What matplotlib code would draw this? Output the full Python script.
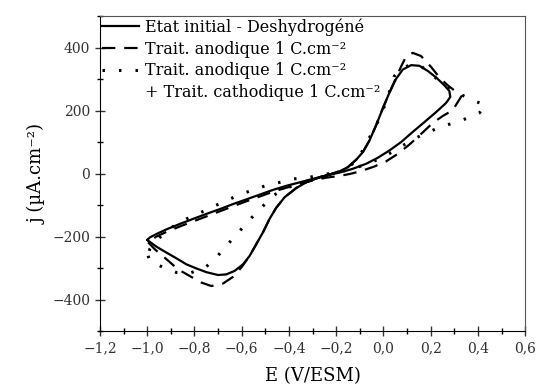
import numpy as np
import matplotlib
matplotlib.use("Agg")
import matplotlib.pyplot as plt
from matplotlib.ticker import MultipleLocator, FuncFormatter

plt.rcParams["font.family"] = "DejaVu Serif"
plt.rcParams["mathtext.fontset"] = "dejavuserif"

# Etat initial - Deshydrogene (solid)
E_init = [-0.999, -0.961, -0.918, -0.876, -0.834, -0.792, -0.749, -0.700, -0.665, -0.630,
          -0.594, -0.566, -0.538, -0.510, -0.482, -0.454, -0.418, -0.369, -0.320, -0.277,
          -0.228, -0.186, -0.151, -0.115, -0.087, -0.059, -0.031, -0.003, 0.025, 0.054,
          0.082, 0.117, 0.152, 0.187, 0.223, 0.258, 0.279, 0.283, 0.265,
          0.223, 0.173, 0.124, 0.075, 0.025, -0.024, -0.073, -0.130, -0.186, -0.242,
          -0.299, -0.355, -0.411, -0.468, -0.524, -0.580, -0.637, -0.693, -0.749, -0.806,
          -0.862, -0.918, -0.961, -0.989, -0.999]
j_init = [-211, -232, -251, -269, -288, -301, -313, -322, -320, -309,
          -288, -261, -224, -187, -144, -109, -75, -46, -25, -14,
          -3, 7, 20, 44, 68, 105, 153, 206, 256, 301,
          330, 344, 342, 326, 305, 280, 262, 243, 224,
          195, 163, 132, 100, 73, 50, 31, 15, 3, -6,
          -17, -28, -39, -52, -67, -82, -97, -113, -128, -144,
          -160, -177, -192, -203, -211]

# Trait. anodique 1 C/cm2 (dashed)
E_ano = [-0.996, -0.968, -0.918, -0.869, -0.820, -0.770, -0.728, -0.679, -0.637, -0.601,
         -0.566, -0.538, -0.510, -0.482, -0.454, -0.418, -0.369, -0.320, -0.277,
         -0.228, -0.186, -0.151, -0.115, -0.087, -0.059, -0.031, -0.003, 0.025, 0.054,
         0.075, 0.095, 0.124, 0.159, 0.201, 0.237, 0.272, 0.300, 0.330,
         0.293, 0.250, 0.208, 0.160, 0.110, 0.060, 0.010, -0.040, -0.090, -0.140, -0.190,
         -0.242, -0.299, -0.355, -0.411, -0.468, -0.524, -0.580, -0.637, -0.693, -0.749,
         -0.806, -0.862, -0.918, -0.961, -0.996]
j_ano = [-218, -240, -272, -304, -325, -346, -357, -349, -328, -298,
         -261, -224, -187, -144, -109, -75, -46, -25, -14,
         -3, 7, 20, 44, 68, 105, 153, 206, 256, 305,
         340, 370, 383, 373, 339, 305, 280, 264, 245,
         201, 182, 160, 126, 92, 62, 38, 22, 9, -1, -8,
         -13, -22, -33, -45, -58, -73, -88, -104, -120, -136,
         -152, -168, -185, -200, -218]

# Trait. anodique + Trait. cathodique 1 C/cm2 (dotted)
E_cat = [-0.996, -0.989, -0.932, -0.876, -0.820, -0.756, -0.707, -0.658, -0.608, -0.559,
         -0.517, -0.468, -0.404, -0.341, -0.285, -0.228, -0.172, -0.130, -0.094, -0.066,
         -0.038, -0.010, 0.011, 0.032, 0.046, 0.075, 0.117, 0.159, 0.208, 0.258,
         0.307, 0.370, 0.431,
         0.406, 0.349, 0.293, 0.230, 0.173, 0.117, 0.061, 0.004, -0.059, -0.130,
         -0.200, -0.270, -0.327, -0.383, -0.439, -0.496, -0.552, -0.608, -0.665, -0.721,
         -0.777, -0.834, -0.890, -0.932, -0.968, -0.989, -0.996]
j_cat = [-261, -277, -298, -314, -316, -300, -266, -224, -182, -141,
         -109, -70, -44, -28, -15, -5, 10, 31, 65, 105,
         142, 185, 227, 275, 309, 333, 346, 341, 312, 280,
         259, 235, 217,
         192, 174, 160, 144, 126, 105, 79, 54, 33, 15,
         3, -5, -14, -17, -28, -38, -52, -67, -86, -105,
         -125, -144, -168, -192, -219, -240, -261]

labels = ["Etat initial - Deshydrogéné",
          "Trait. anodique 1 C.cm\u207b\u00b2",
          "Trait. anodique 1 C.cm\u207b\u00b2",
          "+ Trait. cathodique 1 C.cm\u207b\u00b2"]

fig = plt.figure(figsize=(5.37, 3.90), dpi=100)
ax = fig.add_axes([0.186, 0.151, 0.792, 0.808])

ax.plot(E_init, j_init, color="black", lw=1.6, label=labels[0])
ax.plot(E_ano, j_ano, color="black", lw=1.6, linestyle=(0, (6, 4)), label=labels[1])
ax.plot(E_cat, j_cat, color="black", lw=2.2, linestyle=(0, (0.8, 4.6)), label=labels[2])
ax.plot([], [], color="none", label=labels[3])

ax.set_xlim(-1.2, 0.6)
ax.set_ylim(-500, 500)
ax.xaxis.set_major_locator(MultipleLocator(0.2))
ax.xaxis.set_minor_locator(MultipleLocator(0.1))
ax.yaxis.set_major_locator(MultipleLocator(200))
ax.yaxis.set_minor_locator(MultipleLocator(100))
ax.xaxis.set_major_formatter(FuncFormatter(lambda v, p: f"{v:.1f}".replace(".", ",").replace("-", "\u2212")))
ax.yaxis.set_major_formatter(FuncFormatter(lambda v, p: f"{v:.0f}".replace("-", "\u2212")))
ax.tick_params(which="major", direction="inout", length=7, width=1, labelsize=10, colors="#333333")
ax.tick_params(which="minor", direction="inout", length=4, width=1)
for s in ["top", "right"]:
    ax.spines[s].set_color("#555555")

ax.set_xlabel("E (V/ESM)", fontsize=13, labelpad=9)
ax.set_ylabel("j (µA.cm\u207b\u00b2)", fontsize=13)

leg = ax.legend(loc="upper left", frameon=False, fontsize=11.5, handlelength=2.3,
                labelspacing=0.3, borderaxespad=0.0, handletextpad=0.35,
                borderpad=0.15)

fig.savefig("out.png", dpi=100)
